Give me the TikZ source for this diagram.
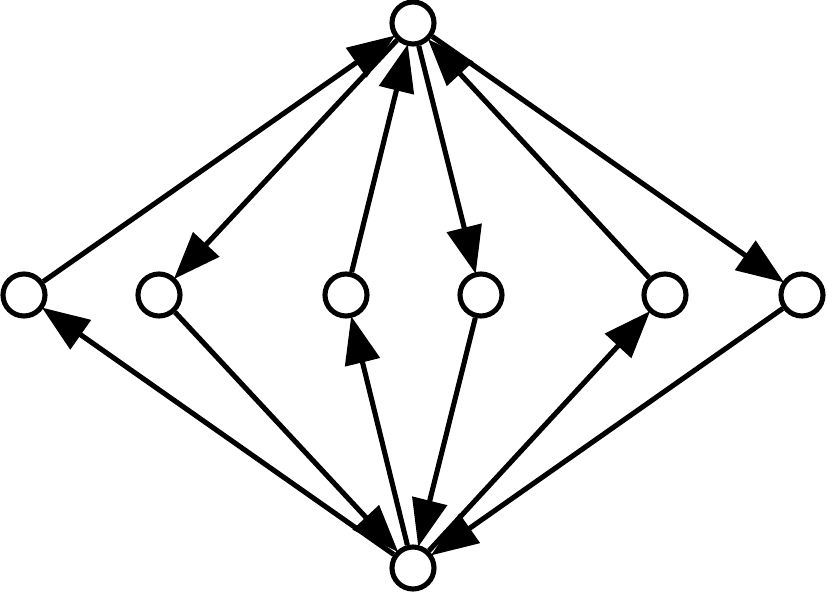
\documentclass[tikz,border=0pt]{standalone}
\usetikzlibrary{arrows.meta}
\tikzstyle{nd}=[circle,draw=black,line width=2.9pt,fill=white,minimum size=.84cm,inner sep=0pt]
\tikzstyle{arc}=[-{Triangle[length=.95cm,width=.7cm]},line width=2.9pt,shorten >=-1pt]

\begin{document}
\begin{tikzpicture}
\useasboundingbox (0,0) rectangle (16.56,11.82);
\node[nd] (t)  at (8.26,11.36) {};
\node[nd] (b)  at (8.26,.46) {};
\node[nd] (a1) at (.48,5.92) {};
\node[nd] (a2) at (3.18,5.92) {};
\node[nd] (a3) at (6.92,5.92) {};
\node[nd] (a4) at (9.62,5.92) {};
\node[nd] (a5) at (13.30,5.92) {};
\node[nd] (a6) at (16.04,5.92) {};
% upper half
\draw[arc] (a1) -- (t);
\draw[arc] (t) -- (a2);
\draw[arc] (a3) -- (t);
\draw[arc] (t) -- (a4);
\draw[arc] (a5) -- (t);
\draw[arc] (t) -- (a6);
% lower half
\draw[arc] (b) -- (a1);
\draw[arc] (a2) -- (b);
\draw[arc] (b) -- (a3);
\draw[arc] (a4) -- (b);
\draw[arc] (b) -- (a5);
\draw[arc] (a6) -- (b);
\end{tikzpicture}
\end{document}
